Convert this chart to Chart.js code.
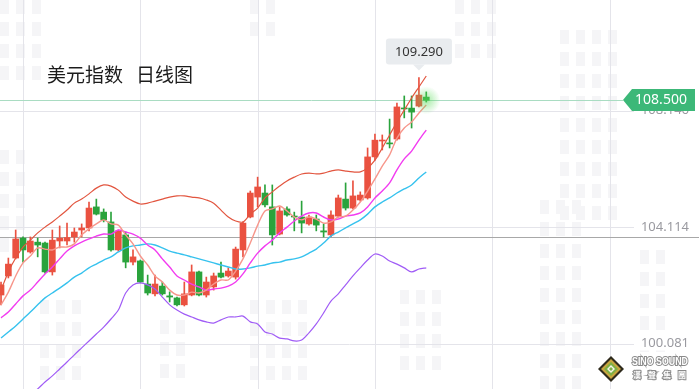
<!DOCTYPE html>
<html>
<head>
<meta charset="utf-8">
<script src="https://cdn.jsdelivr.net/npm/chart.js@4.4.1/dist/chart.umd.min.js"></script>
<style>
html, body { margin: 0; padding: 0; background: #fff; }
#wrap { width: 699px; height: 389px; position: relative; }
</style>
</head>
<body>
<div id="wrap"><canvas id="chart"></canvas></div>
<script>
// daily candles, oldest first
const opens  = [101.76,102.42,103.04,103.73,103.25,103.59,103.56,102.56,103.63,103.63,103.77,104.01,104.08,104.81,104.63,104.29,103.32,103.84,102.90,102.94,102.14,101.80,102.07,101.73,101.66,101.42,101.76,102.56,101.76,102.04,102.52,102.42,102.38,103.32,104.46,105.15,105.29,104.81,103.87,104.74,104.49,104.46,104.22,104.39,103.98,103.84,104.49,105.08,104.77,105.05,105.12,106.54,107.09,107.02,107.16,108.23,108.23,108.30,108.61];
const highs  = [102.21,103.04,104.01,103.77,103.77,103.73,103.59,104.01,104.15,104.25,104.08,104.22,104.98,105.08,104.74,104.63,104.01,103.94,103.32,102.97,102.45,102.45,102.21,101.87,101.69,102.21,102.80,102.59,102.38,102.52,102.90,102.70,103.42,104.29,105.36,105.84,105.57,105.57,104.81,104.81,104.63,105.01,104.53,104.53,104.22,104.67,105.22,105.64,105.71,105.33,106.85,107.33,107.30,107.85,108.40,108.65,108.65,109.29,108.79];
const lows   = [101.42,102.35,103.01,102.90,103.21,103.08,102.52,102.45,103.39,103.49,103.59,103.77,103.98,104.53,104.29,103.28,103.28,102.70,102.80,102.18,101.76,101.73,101.76,101.52,101.38,101.38,101.73,101.73,101.69,101.93,102.35,102.38,102.31,103.08,104.43,104.81,104.81,103.49,103.84,104.49,103.98,103.91,104.18,103.98,103.77,103.77,104.46,104.70,104.74,105.01,105.08,106.43,106.78,106.85,107.12,107.89,107.54,108.27,108.44];
const closes = [102.11,102.83,103.70,103.32,103.63,103.49,102.56,103.66,103.73,103.75,103.94,104.08,104.77,104.56,104.36,103.32,103.98,102.90,103.08,102.21,101.83,102.14,101.80,101.69,101.42,101.80,102.56,101.76,102.21,102.42,102.38,102.59,103.35,104.25,105.29,105.50,104.88,103.84,104.67,104.53,104.46,104.25,104.46,104.18,103.94,104.53,105.12,104.77,105.19,105.22,106.54,107.12,107.12,106.99,108.27,108.20,108.09,108.68,108.50];

const ma5  = [101.42,101.86,102.42,102.87,103.11,103.39,103.35,103.32,103.42,103.42,103.53,103.84,104.05,104.22,104.36,104.22,104.18,103.84,103.53,103.11,102.80,102.42,102.21,101.93,101.76,101.76,101.86,101.83,101.93,102.14,102.28,102.28,102.59,103.01,103.56,104.18,104.67,104.74,104.84,104.67,104.46,104.36,104.46,104.39,104.25,104.29,104.46,104.49,104.70,104.98,105.36,105.78,106.22,106.61,107.19,107.54,107.75,108.06,108.34];
const ma10 = [100.97,101.17,101.45,101.73,101.93,102.21,102.49,102.73,103.01,103.28,103.46,103.59,103.70,103.80,103.87,103.87,104.01,103.94,103.87,103.73,103.49,103.32,103.01,102.73,102.42,102.28,102.14,102.04,101.93,101.97,102.00,102.07,102.21,102.49,102.87,103.21,103.46,103.66,103.91,104.11,104.32,104.49,104.60,104.60,104.46,104.36,104.39,104.49,104.53,104.60,104.81,105.12,105.36,105.64,106.09,106.47,106.74,107.12,107.47];
const bollMid = [100.27,100.48,100.69,100.93,101.17,101.42,101.66,101.83,102.00,102.18,102.38,102.52,102.70,102.83,102.97,103.08,103.25,103.39,103.46,103.49,103.53,103.49,103.39,103.28,103.21,103.15,103.08,103.01,102.94,102.87,102.80,102.73,102.66,102.66,102.70,102.76,102.80,102.87,102.90,102.97,103.01,103.08,103.21,103.35,103.56,103.80,103.94,104.08,104.22,104.36,104.56,104.81,104.98,105.12,105.29,105.43,105.57,105.81,106.02];
const bollUp  = [101.93,102.56,103.04,103.42,103.66,103.91,104.11,104.29,104.49,104.70,104.94,105.08,105.26,105.46,105.57,105.53,105.39,105.15,105.01,104.91,104.94,105.01,105.08,105.15,105.19,105.19,105.15,105.12,105.05,104.94,104.70,104.46,104.32,104.29,104.56,104.77,105.12,105.33,105.53,105.71,105.84,105.95,105.98,105.95,105.98,106.05,106.09,106.05,106.02,106.02,106.16,106.43,106.85,107.30,107.75,108.16,108.58,108.96,109.34];
const bollDn  = [97.40,97.70,97.90,98.10,98.30,98.51,98.75,98.96,99.20,99.44,99.69,99.93,100.17,100.41,100.65,100.93,101.24,101.83,102.11,102.18,102.11,101.97,101.69,101.42,101.24,101.10,101.00,100.90,100.83,100.79,100.90,101.00,101.00,101.03,100.83,100.76,100.48,100.41,100.27,100.24,100.17,100.20,100.45,100.76,101.14,101.55,101.80,102.11,102.42,102.70,102.97,103.18,103.11,102.94,102.83,102.70,102.56,102.66,102.70];

const yTicks = [100.081, 104.114, 108.146];
const xGridIdx = [3, 19, 35, 51, 67, 83];
const lastPrice = 108.500;
const maxHigh = 109.290;
const maxHighIdx = 57;
const crossValue = 103.77;

const UP = '#ea5140', DOWN = '#2aa33c';
const candleColors = closes.map((c, i) => c >= opens[i] ? UP : DOWN);
const pts = arr => arr.map((v, i) => ({ x: i, y: v }));

// faint city watermark behind the chart: [left, top, columns, rows]
const blocks = [
    [0, 0, 3, 4], [250, 0, 2, 2], [455, 0, 3, 3], [560, 30, 4, 9],
    [0, 150, 2, 5], [40, 300, 3, 4], [250, 300, 4, 4], [540, 200, 3, 9],
    [640, 250, 2, 5], [400, 290, 3, 4], [160, 320, 2, 3]
];

function lineSet(data, color, width) {
    return {
        type: 'line', data: pts(data), borderColor: color, borderWidth: width,
        pointRadius: 0, tension: 0.3, fill: false, order: 1
    };
}

const overlay = {
    id: 'overlay',
    beforeDatasetsDraw(chart) {
        const { ctx, scales: { x, y }, chartArea: a } = chart;
        ctx.save();
        ctx.fillStyle = '#f5f5f7';
        blocks.forEach(([bx, by, cols, rows]) => {
            for (let c = 0; c < cols; c++)
                for (let r = 0; r < rows; r++)
                    ctx.fillRect(bx + c * 16, by + r * 22, 9, 14);
        });
        ctx.lineWidth = 1;
        ctx.strokeStyle = '#e4e4ea';
        xGridIdx.forEach(i => {
            const px = Math.round(x.getPixelForValue(i)) + 0.5;
            ctx.beginPath(); ctx.moveTo(px, a.top); ctx.lineTo(px, a.bottom); ctx.stroke();
        });
        yTicks.forEach(v => {
            const py = Math.round(y.getPixelForValue(v)) + 0.5;
            ctx.beginPath(); ctx.moveTo(a.left, py); ctx.lineTo(a.right, py); ctx.stroke();
        });
        // crosshair line
        let py = Math.round(y.getPixelForValue(crossValue)) + 0.5;
        ctx.strokeStyle = '#a8a8a8';
        ctx.beginPath(); ctx.moveTo(a.left, py); ctx.lineTo(a.right, py); ctx.stroke();
        // last price line
        py = Math.round(y.getPixelForValue(lastPrice)) + 0.5;
        ctx.strokeStyle = '#a9dcc2';
        ctx.beginPath(); ctx.moveTo(a.left, py); ctx.lineTo(623, py); ctx.stroke();
        ctx.restore();
    },
    afterDatasetsDraw(chart) {
        const { ctx, scales: { x, y } } = chart;
        ctx.save();

        // glow on last candle
        const gx = x.getPixelForValue(closes.length - 1), gy = y.getPixelForValue(lastPrice);
        const g = ctx.createRadialGradient(gx, gy, 0, gx, gy, 14);
        g.addColorStop(0, 'rgba(90,220,90,0.55)');
        g.addColorStop(1, 'rgba(90,220,90,0)');
        ctx.fillStyle = g;
        ctx.beginPath(); ctx.arc(gx, gy, 14, 0, Math.PI * 2); ctx.fill();

        // y labels
        ctx.font = '13px "Noto Sans", sans-serif';
        ctx.textAlign = 'right';
        ctx.textBaseline = 'middle';
        yTicks.forEach(v => {
            const py = y.getPixelForValue(v);
            ctx.fillStyle = '#fff';
            ctx.fillRect(634, py - 7, 65, 14);
            ctx.fillStyle = '#9a9aa0';
            ctx.fillText(v.toFixed(3), 689, py);
        });

        // last price tag
        const ty = Math.round(y.getPixelForValue(lastPrice));
        ctx.fillStyle = '#3cb878';
        ctx.beginPath();
        ctx.moveTo(623, ty); ctx.lineTo(632, ty - 11); ctx.lineTo(695, ty - 11);
        ctx.lineTo(695, ty + 11); ctx.lineTo(632, ty + 11); ctx.closePath(); ctx.fill();
        ctx.fillStyle = '#fff';
        ctx.font = '14px "Noto Sans", sans-serif';
        ctx.textAlign = 'center';
        ctx.fillText(lastPrice.toFixed(3), 661, ty + 0.5);

        // max high bubble
        const hx = x.getPixelForValue(maxHighIdx), hy = y.getPixelForValue(maxHigh);
        const bw = 66, bh = 26, bx = hx - bw / 2, by = hy - 39;
        ctx.fillStyle = '#e9ecef';
        ctx.beginPath();
        ctx.roundRect(bx, by, bw, bh, 3);
        ctx.fill();
        ctx.beginPath();
        ctx.moveTo(hx - 6, by + bh); ctx.lineTo(hx + 6, by + bh); ctx.lineTo(hx, by + bh + 6);
        ctx.closePath(); ctx.fill();
        ctx.fillStyle = '#333';
        ctx.font = '13px "Noto Sans", sans-serif';
        ctx.fillText(maxHigh.toFixed(3), hx, by + bh / 2 + 0.5);

        // title
        ctx.fillStyle = '#1c1c1c';
        ctx.font = '19px "Noto Sans CJK SC", sans-serif';
        ctx.textAlign = 'left';
        ctx.fillText('美元指数', 47, 75);
        ctx.fillText('日线图', 136, 75);

        // logo
        const lx = 611, ly = 369;
        const diamond = (r, c) => {
            ctx.fillStyle = c;
            ctx.beginPath();
            ctx.moveTo(lx, ly - r); ctx.lineTo(lx + r, ly); ctx.lineTo(lx, ly + r); ctx.lineTo(lx - r, ly);
            ctx.closePath(); ctx.fill();
        };
        diamond(13, '#2e2a1c');
        diamond(10, '#c9a640');
        diamond(7, '#7fb045');
        diamond(4, '#f4f4e8');
        diamond(2, '#7fb045');
        ctx.lineWidth = 2;
        ctx.strokeStyle = '#8a8a8a';
        ctx.fillStyle = '#fff';
        ctx.font = 'bold 10px "Liberation Sans", sans-serif';
        const w = ctx.measureText('SINO SOUND').width;
        ctx.save();
        ctx.translate(632, 362);
        ctx.scale(56 / w, 1);
        ctx.strokeText('SINO SOUND', 0, 0);
        ctx.fillText('SINO SOUND', 0, 0);
        ctx.restore();
        ctx.font = 'bold 8px "Noto Sans CJK TC", sans-serif';
        ['漢', '聲', '集', '團'].forEach((ch, i) => {
            ctx.strokeText(ch, 633 + i * 15, 375);
            ctx.fillText(ch, 633 + i * 15, 375);
        });
        ctx.restore();
    }
};

new Chart(document.getElementById('chart'), {
    type: 'bar',
    data: {
        datasets: [
            lineSet(ma5, '#f7968b', 1.4),
            lineSet(ma10, '#f23cf0', 1.4),
            lineSet(bollMid, '#36c2ee', 1.4),
            lineSet(bollUp, '#e2553f', 1.2),
            lineSet(bollDn, '#a05cf6', 1.2),
            {
                label: 'body',
                data: opens.map((o, i) => ({ x: i, y: [o, closes[i]] })),
                backgroundColor: candleColors,
                barThickness: 6, grouped: false, order: 5, minBarLength: 1
            },
            {
                label: 'wick',
                data: lows.map((l, i) => ({ x: i, y: [l, highs[i]] })),
                backgroundColor: candleColors,
                barThickness: 1, grouped: false, order: 6
            }
        ]
    },
    options: {
        responsive: true,
        maintainAspectRatio: false,
        animation: false,
        events: [],
        layout: { padding: 0 },
        plugins: { legend: { display: false }, tooltip: { enabled: false } },
        scales: {
            x: { type: 'linear', display: false, min: -0.14, max: 95.2, offset: false },
            y: { type: 'linear', display: false, min: 98.507, max: 111.971 }
        }
    },
    plugins: [overlay]
});
</script>
</body>
</html>
